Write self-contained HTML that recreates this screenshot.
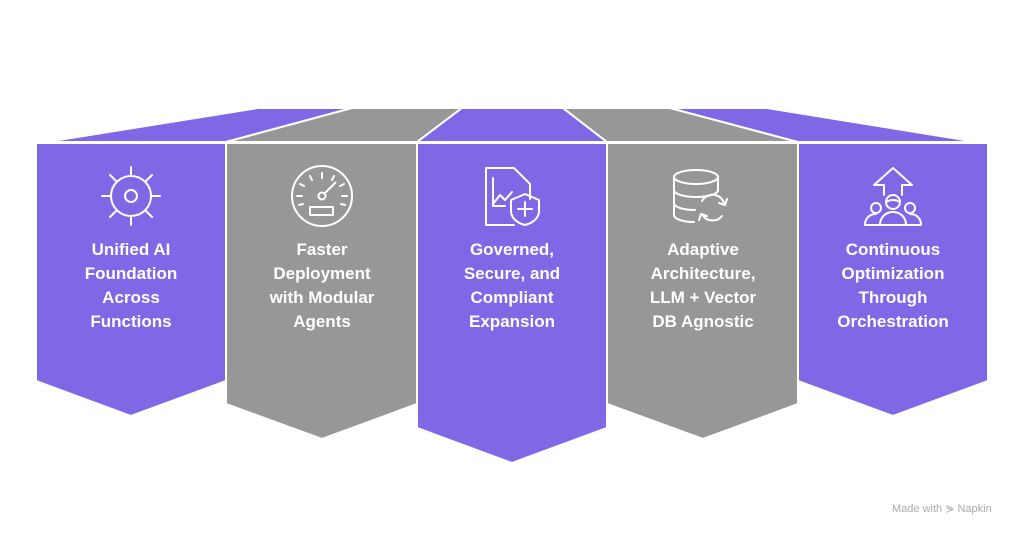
<!DOCTYPE html>
<html><head><meta charset="utf-8"><style>
html,body{margin:0;padding:0;background:#fff;width:1024px;height:536px;overflow:hidden;font-family:"Liberation Sans",sans-serif}
.t{position:absolute;width:126px;text-align:center;color:#fff;font-weight:bold;font-size:17px;line-height:24px;top:238px}
</style></head><body>
<svg width="1024" height="536" style="position:absolute;left:0;top:0">
<g stroke="#fff" stroke-width="2" stroke-linejoin="miter">
<polygon fill="#7f67e6" points="46,142 258,108 352,108 226,142"/>
<polygon fill="#979797" points="226,142 352,108 462,108 417,142"/>
<polygon fill="#7f67e6" points="417,142 462,108 563,108 607,142"/>
<polygon fill="#979797" points="607,142 563,108 670,108 798,142"/>
<polygon fill="#7f67e6" points="798,142 670,108 767,108 977,142"/>
<polygon fill="#7f67e6" points="36,143 226,143 226,381 131,416 36,381"/>
<polygon fill="#979797" points="226,143 417,143 417,404 322,439 226,404"/>
<polygon fill="#7f67e6" points="417,143 607,143 607,428 512,463 417,428"/>
<polygon fill="#979797" points="607,143 798,143 798,404 703,439 607,404"/>
<polygon fill="#7f67e6" points="798,143 988,143 988,381 893,416 798,381"/>
</g>
<g fill="none" stroke="#fff" stroke-width="2" stroke-linecap="round" stroke-linejoin="round">
<circle cx="131" cy="196" r="20"/><circle cx="131" cy="196" r="6"/>
<path d="M131 167v9M131 216v9M102 196h9M151 196h9M110 175l6 6M146 211l6 6M152 175l-6 6M116 211l-6 6"/>
<circle cx="322" cy="196" r="30"/>
<rect x="310" y="207" width="23" height="8"/>
<circle cx="322" cy="196" r="3.5"/>
<path d="M324.5 193.5l11-11M322 173v5M310 176l2 4M334 176l-2 4M300 184l4 2M344 184l-4 2M297 196h5M347 196h-5M299 205l4-1M345 205l-4-1"/>
<path d="M514 225h-28v-57h28l16 16v15"/>
<path d="M493 178v28h12M493 204l7-9 5 5 7-8"/>
<path d="M511 200l14-6 14 6v11c0 7-6 12-14 14c-8-2-14-7-14-14z"/>
<path d="M525 202v14M518 209h14"/>
<ellipse cx="696" cy="177" rx="22" ry="7"/>
<path d="M674 177v38c0 4 9 7 20 7M718 177v14M674 190c0 4 10 7 22 7s22-3 22-7M674 203c0 4 9 7 21 7"/>
<path d="M702 201a12 12 0 0 1 22 2M727 199l-2 6-6-2M722 216a12 12 0 0 1-20-2M699 220l2-6 6 2"/>
<path d="M893 168l-19 17h10v10M893 168l19 17h-10v10"/>
<circle cx="893" cy="202" r="7"/>
<path d="M886 202q7-4 14 0"/>
<circle cx="876" cy="208" r="5"/><circle cx="910" cy="208" r="5"/>
<path d="M865 225c0-7 5-11 11-11M921 225c0-7-5-11-11-11M880 225c0-8 6-13 13-13s13 5 13 13zM865 225h56"/>
</g>
</svg>
<div class="t" style="left:68px">Unified AI Foundation Across Functions</div>
<div class="t" style="left:259px">Faster Deployment with Modular Agents</div>
<div class="t" style="left:449px">Governed, Secure, and Compliant Expansion</div>
<div class="t" style="left:640px">Adaptive Architecture, LLM + Vector DB Agnostic</div>
<div class="t" style="left:830px">Continuous Optimization Through Orchestration</div>
<div style="position:absolute;left:892px;top:502px;font-size:11px;color:#aaa">Made with ⋟ Napkin</div>
</body></html>
